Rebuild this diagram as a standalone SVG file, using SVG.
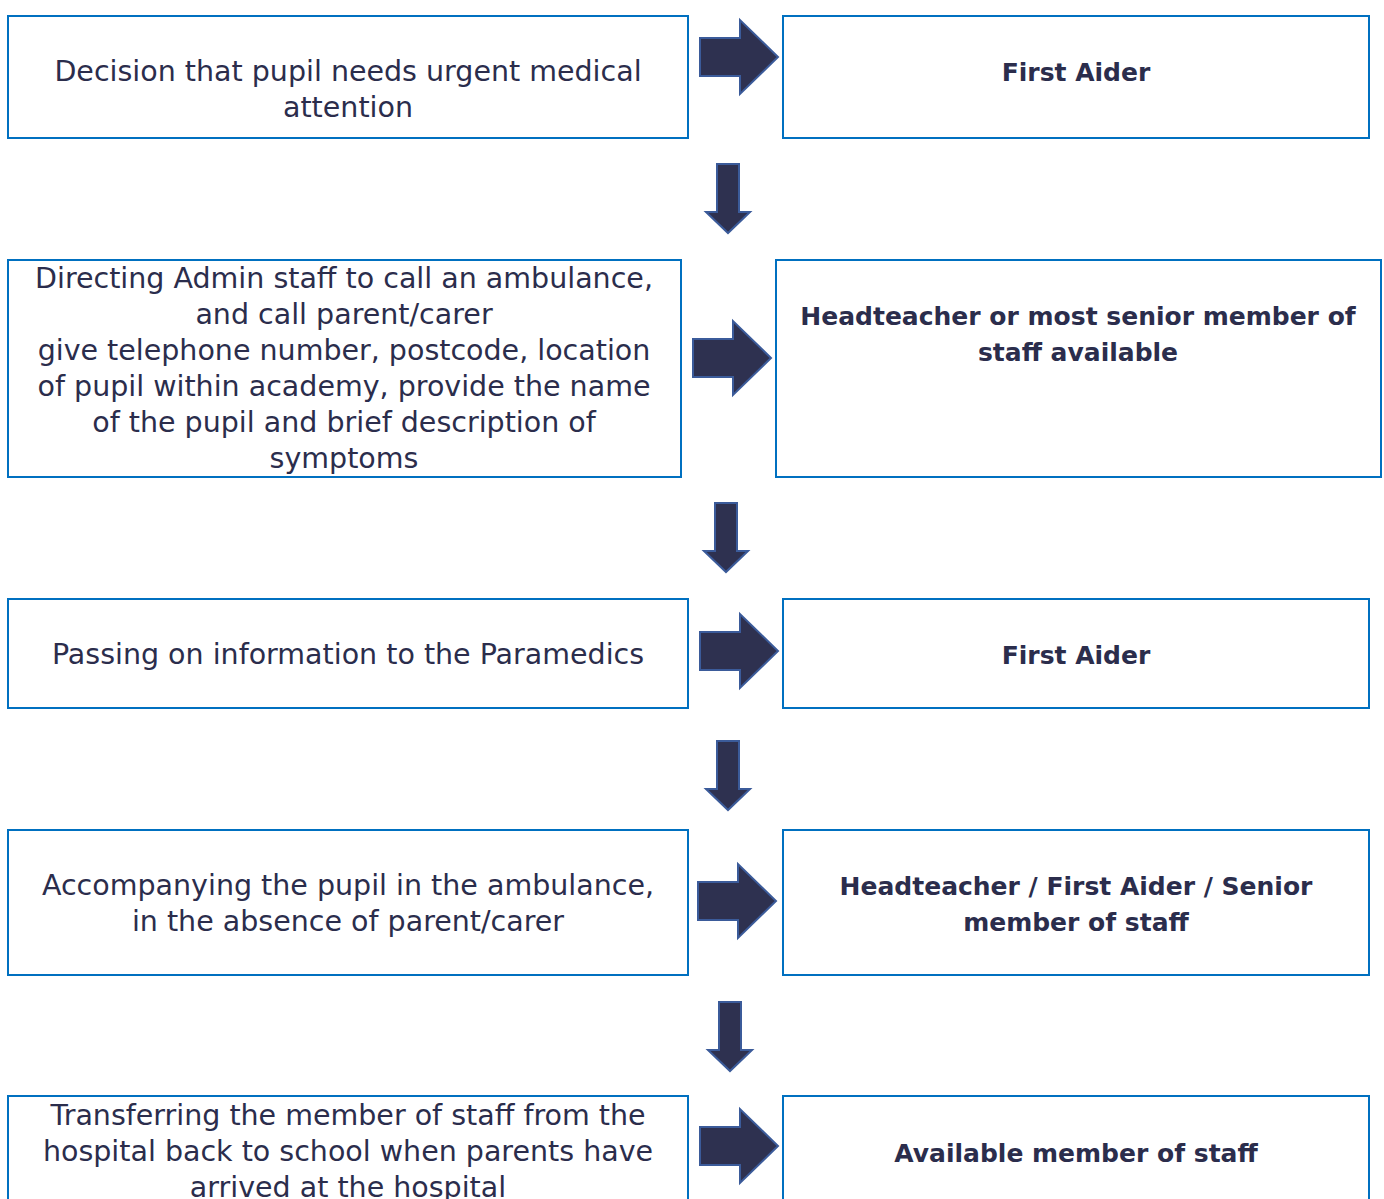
<svg xmlns="http://www.w3.org/2000/svg" width="1384" height="1199" viewBox="0 0 1384 1199">
<style>
.box{fill:#fff;stroke:#0070c0;stroke-width:2}
.t{font-family:"DejaVu Sans",sans-serif;font-size:28.5px;fill:#2b2d4c;text-anchor:middle}
.b{font-family:"DejaVu Sans",sans-serif;font-size:25px;font-weight:bold;fill:#2b2d4c;text-anchor:middle}
.arr{fill:#2e3150;stroke:#3b5b9a;stroke-width:2;stroke-linejoin:miter}
</style>
<defs>
<path id="ra" d="M0,-19 L40,-19 L40,-37 L78,0 L40,37 L40,19 L0,19 Z"/>
<path id="da" d="M-11,0 L11,0 L11,48 L22,48 L0,69 L-22,48 L-11,48 Z"/>
</defs>
<rect width="1384" height="1199" fill="#fff"/>
<g id="n1"><rect class="box" x="8" y="16" width="680" height="122"/>
<text class="t" x="348" y="81">Decision that pupil needs urgent medical</text>
<text class="t" x="348" y="117">attention</text></g>
<g id="n2"><rect class="box" x="783" y="16" width="586" height="122"/>
<text class="b" x="1076" y="81">First Aider</text></g>
<g id="n3"><rect class="box" x="8" y="260" width="673" height="217"/>
<text class="t" x="344" y="288">Directing Admin staff to call an ambulance,</text>
<text class="t" x="344" y="324">and call parent/carer</text>
<text class="t" x="344" y="360">give telephone number, postcode, location</text>
<text class="t" x="344" y="396">of pupil within academy, provide the name</text>
<text class="t" x="344" y="432">of the pupil and brief description of</text>
<text class="t" x="344" y="468">symptoms</text></g>
<g id="n4"><rect class="box" x="776" y="260" width="605" height="217"/>
<text class="b" x="1078" y="325">Headteacher or most senior member of</text>
<text class="b" x="1078" y="361">staff available</text></g>
<g id="n5"><rect class="box" x="8" y="599" width="680" height="109"/>
<text class="t" x="348" y="664">Passing on information to the Paramedics</text></g>
<g id="n6"><rect class="box" x="783" y="599" width="586" height="109"/>
<text class="b" x="1076" y="664">First Aider</text></g>
<g id="n7"><rect class="box" x="8" y="830" width="680" height="145"/>
<text class="t" x="348" y="895">Accompanying the pupil in the ambulance,</text>
<text class="t" x="348" y="931">in the absence of parent/carer</text></g>
<g id="n8"><rect class="box" x="783" y="830" width="586" height="145"/>
<text class="b" x="1076" y="895">Headteacher / First Aider / Senior</text>
<text class="b" x="1076" y="931">member of staff</text></g>
<g id="n9"><rect class="box" x="8" y="1096" width="680" height="120"/>
<text class="t" x="348" y="1125">Transferring the member of staff from the</text>
<text class="t" x="348" y="1161">hospital back to school when parents have</text>
<text class="t" x="348" y="1197">arrived at the hospital</text></g>
<g id="n10"><rect class="box" x="783" y="1096" width="586" height="120"/>
<text class="b" x="1076" y="1162">Available member of staff</text></g>
<g id="connectors">
<use href="#ra" class="arr" x="700" y="57"/>
<use href="#da" class="arr" x="728" y="164"/>
<use href="#ra" class="arr" x="693" y="358"/>
<use href="#da" class="arr" x="726" y="503"/>
<use href="#ra" class="arr" x="700" y="651"/>
<use href="#da" class="arr" x="728" y="741"/>
<use href="#ra" class="arr" x="698" y="901"/>
<use href="#da" class="arr" x="730" y="1002"/>
<use href="#ra" class="arr" x="700" y="1146"/>
</g>
</svg>
